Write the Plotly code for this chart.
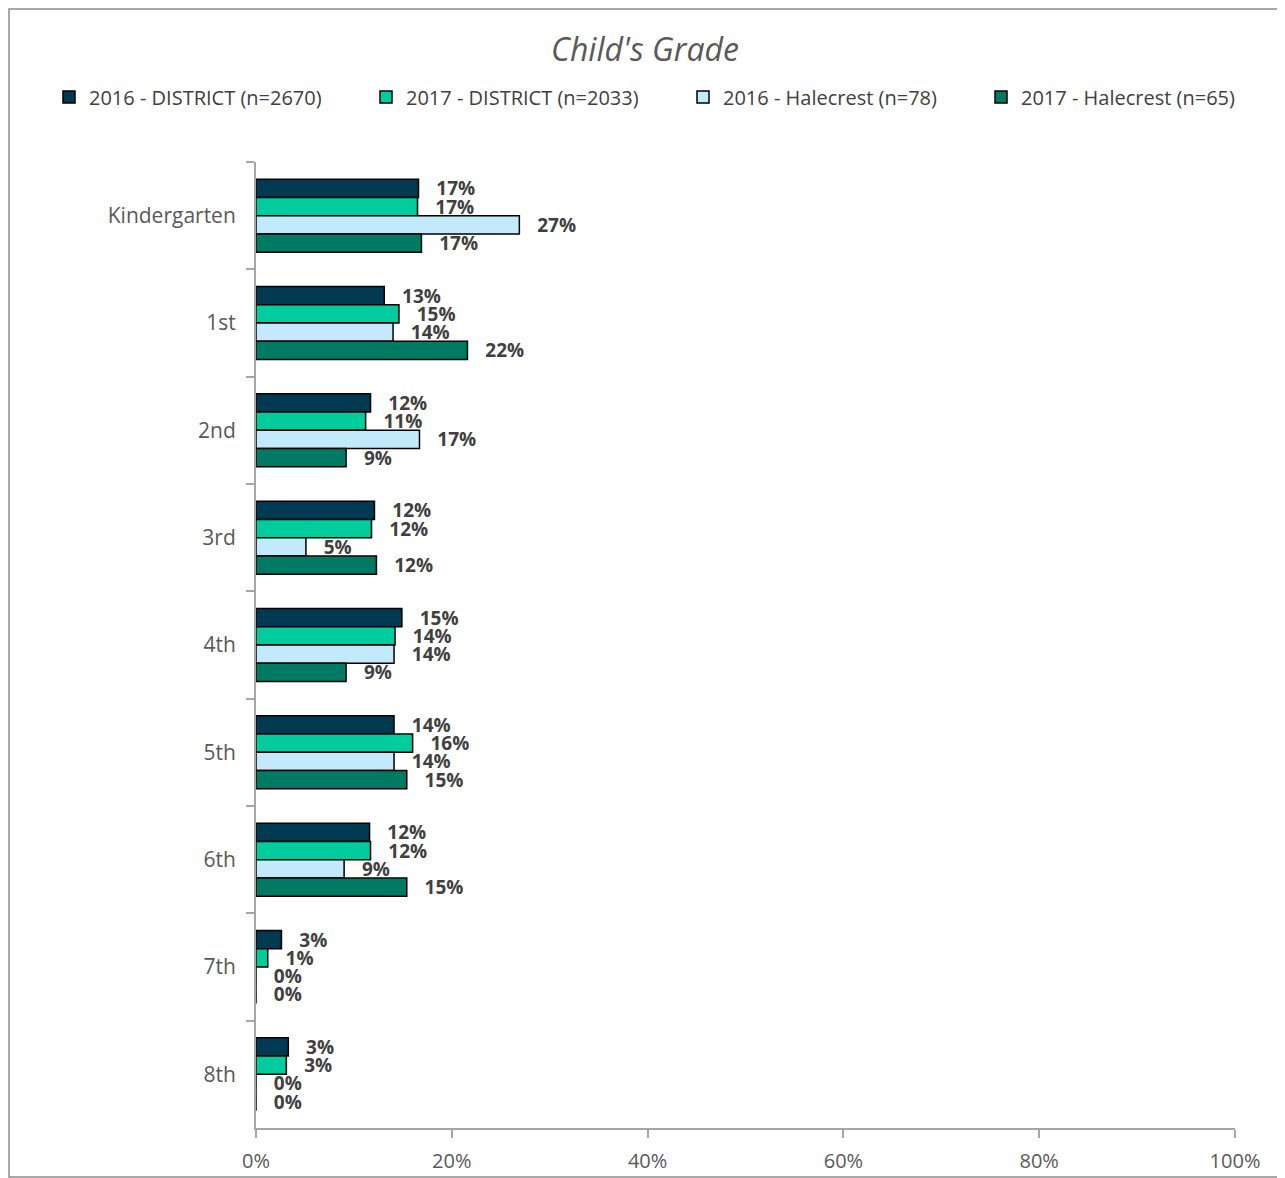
import plotly.graph_objects as go

categories = ["Kindergarten", "1st", "2nd", "3rd", "4th", "5th", "6th", "7th", "8th"]
series_names = [
    "2016 - DISTRICT (n=2670)",
    "2017 - DISTRICT (n=2033)",
    "2016 - Halecrest (n=78)",
    "2017 - Halecrest (n=65)",
]
district_2016 = [16.6, 13.1, 11.7, 12.1, 14.9, 14.1, 11.6, 2.6, 3.3]
district_2017 = [16.5, 14.6, 11.2, 11.8, 14.2, 16.0, 11.7, 1.2, 3.1]
halecrest_2016 = [26.9, 14.0, 16.7, 5.1, 14.1, 14.1, 9.0, 0.0, 0.0]
halecrest_2017 = [16.9, 21.6, 9.2, 12.3, 9.2, 15.4, 15.4, 0.0, 0.0]
colors = ["#003A52", "#00CC9E", "#C3EAFA", "#007A63"]
x_ticks = [0, 20, 40, 60, 80, 100]

# page body has an 8px margin; figure sized to fit the window
W, H = 1277, 1170
ML, MR, MT, MB = 248, 50, 154, 50
legend_ids = ["legend", "legend2", "legend3", "legend4"]
legend_left = [41, 358, 675, 973]

fig = go.Figure()
for name, vals, col, lid in zip(series_names,
                                [district_2016, district_2017, halecrest_2016, halecrest_2017],
                                colors, legend_ids):
    fig.add_trace(go.Bar(
        y=categories, x=vals, name=name, orientation="h", legend=lid,
        marker=dict(color=col, line=dict(color="#000000", width=1.5)),
        texttemplate="   %{x:.0f}%", textposition="outside",
        textfont=dict(family="Open Sans", size=19, color="#404040", weight="bold"),
        constraintext="none", cliponaxis=False,
    ))

pw = W - ML - MR
ph = H - MT - MB
fig.add_shape(type="rect", xref="paper", yref="paper",
              x0=-(ML - 1) / pw, x1=1 + (MR - 5) / pw,
              y0=-(MB - 1) / ph, y1=1 + (MT - 1) / ph,
              line=dict(color="#8C8C8C", width=1.5), fillcolor="rgba(0,0,0,0)", layer="below")

legend_common = dict(orientation="h", xref="container", xanchor="left",
                     yref="container", y=1 - 89 / H, yanchor="middle",
                     font=dict(family="Open Sans", size=20, color="#404040"),
                     itemwidth=30, bgcolor="rgba(0,0,0,0)")
legends = {lid: dict(legend_common, x=lx / W) for lid, lx in zip(legend_ids, legend_left)}

fig.update_layout(
    width=W, height=H,
    margin=dict(l=ML, r=MR, t=MT, b=MB, autoexpand=False),
    paper_bgcolor="white", plot_bgcolor="white",
    barmode="group", bargap=0.32, bargroupgap=0.0,
    title=dict(text="Child's Grade", x=637 / W, xref="container", xanchor="center",
               y=1 - 42 / H, yanchor="middle",
               font=dict(family="Open Sans", size=32, color="#595959", style="italic")),
    showlegend=True,
    xaxis=dict(range=[0, 100], tickvals=x_ticks, ticktext=[f"{v}%" for v in x_ticks],
               showgrid=False, zeroline=False, showline=True, linecolor="#A6A6A6",
               linewidth=2, ticks="outside", ticklen=8, tickcolor="#A6A6A6", tickwidth=2,
               tickangle=0, ticklabelstandoff=6,
               tickfont=dict(family="Open Sans", size=20, color="#595959")),
    yaxis=dict(autorange="reversed", showgrid=False, zeroline=False, showline=True,
               linecolor="#A6A6A6", linewidth=2, ticks="outside", tickson="boundaries",
               ticklen=8, tickcolor="#A6A6A6", tickwidth=2, ticklabelstandoff=14,
               tickfont=dict(family="Open Sans", size=21, color="#595959")),
    **legends,
)

fig.write_html("out.html")
